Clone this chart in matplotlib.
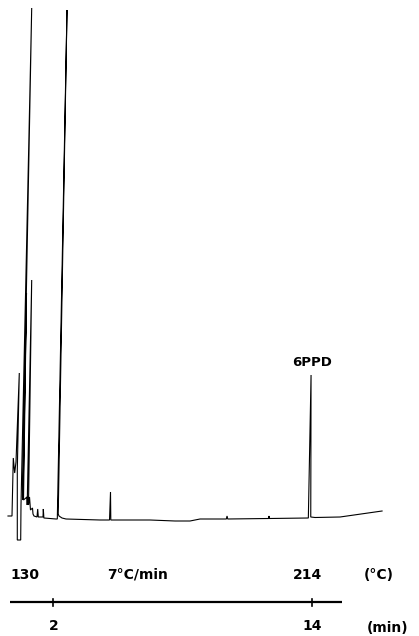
import matplotlib
matplotlib.use("Agg")
import matplotlib.pyplot as plt

# Chromatogram trace vertices: retention time (min), detector signal (arb. units)
trace_time = [-0.104, 0.082, 0.142, 0.207, 0.268, 0.421, 0.328, 0.328, 0.486, 0.500,
              0.997, 0.570, 0.593, 0.755, 0.616, 0.779, 0.788, 0.997, 0.848, 0.895,
              0.941, 1.034, 1.057, 1.104, 1.243, 1.276, 1.303, 1.522, 1.536, 1.563,
              2.125, 2.186, 2.636, 2.228, 2.265, 2.404, 2.590, 4.169, 4.610, 4.656,
              4.670, 6.491, 7.652, 8.348, 8.813, 10.034, 10.067, 10.099, 11.994, 12.017,
              12.040, 13.842, 13.968, 13.954, 14.153, 15.314, 17.265]
trace_signal = [4, 4, 62, 47, 58, 147, 50, -20, -20, 15,
                512, 23, 20, 227, 20, 23, 15, 240, 15, 23,
                10, 12, 6, 4, 3, 11, 3, 3, 11, 2,
                1, 1, 510, 6, 4, 2, 1, 0, 0, 28,
                0, 0, -1, -1, 1, 1, 4, 1, 1.5, 4,
                1.5, 2, 145, 3, 2.5, 3, 9]

# Peak label
peak_label = "6PPD"
peak_label_time = 14.01
peak_label_signal = 157

# Temperature programme axis
prog_start, prog_end = 0.0, 15.41
tick_times = [2, 14]
tick_labels = ["2", "14"]
temp_labels = ["130", "7°C/min", "214", "(°C)"]
temp_label_times = [0.0, 5.89, 13.78, 17.13]
unit_time_label = "(min)"
unit_time_pos = 17.54

fig = plt.figure(figsize=(4.19, 6.36), dpi=100)
ax = fig.add_axes([0, 0, 1, 1])
ax.set_xlim(-0.475, 18.98)
ax.set_ylim(-116, 520)
ax.axis("off")

ax.plot(trace_time, trace_signal, color="black", lw=0.8, solid_joinstyle="miter")

ax.text(peak_label_time, peak_label_signal, peak_label, ha="center", va="center",
        fontsize=9.5, fontweight="bold", family="DejaVu Sans")

# Programme line
axis_y = -82.3
ax.plot([prog_start, prog_end], [axis_y, axis_y], color="black", lw=1.6, solid_capstyle="butt")
for t in tick_times:
    ax.plot([t, t], [axis_y - 3.5, axis_y + 3.5], color="black", lw=1.2)

for lbl, t in zip(temp_labels, temp_label_times):
    ha = "left" if lbl == "130" else "center"
    ax.text(t, -55, lbl, ha=ha, va="center", fontsize=10, fontweight="bold")

for lbl, t in zip(tick_labels, tick_times):
    ax.text(t, -106.5, lbl, ha="center", va="center", fontsize=10, fontweight="bold")
ax.text(unit_time_pos, -107.5, unit_time_label, ha="center", va="center",
        fontsize=10, fontweight="bold")

fig.savefig("out.png", dpi=100, facecolor="white")
